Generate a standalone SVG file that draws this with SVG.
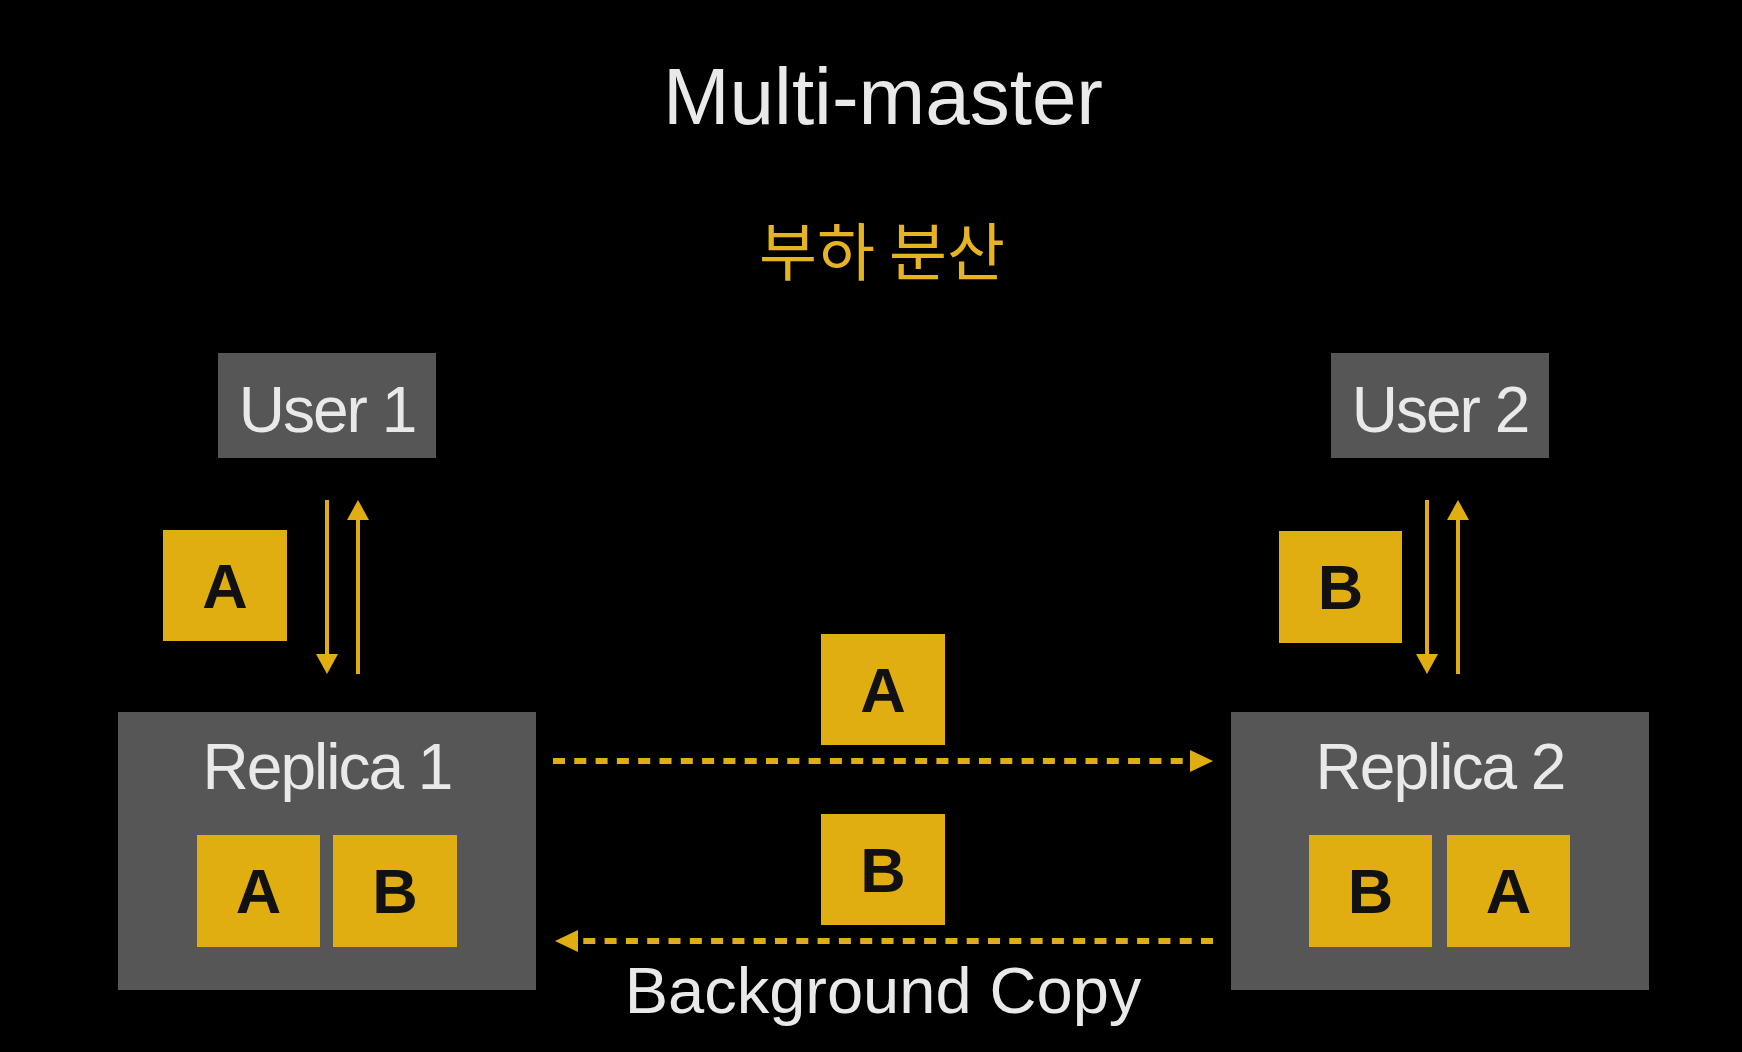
<svg xmlns="http://www.w3.org/2000/svg" width="1742" height="1052" viewBox="0 0 1742 1052">
<style>
.bg{fill:#000}
.gray{fill:#565656}
.yel{fill:#e1ae12}
.lbl{font-family:"Liberation Sans",Arial,sans-serif;fill:#e9e9e9;text-anchor:middle}
.node{font-size:64px;letter-spacing:-2px}
.let{font-family:"Liberation Sans",Arial,sans-serif;font-weight:bold;font-size:63px;fill:#111;text-anchor:middle}
.solid{stroke:#e1ae12;stroke-width:4;fill:none}
.dash{stroke:#e1ae12;stroke-width:6;fill:none;stroke-dasharray:12 9.3}
</style>
<defs>
<marker id="ah" viewBox="0 0 20 22" refX="10" refY="11" markerWidth="20" markerHeight="22" markerUnits="userSpaceOnUse" orient="auto">
<path d="M0,0 L20,11 L0,22 Z" fill="#e1ae12"/>
</marker>
<marker id="ahd" viewBox="0 0 23 22" refX="2" refY="11" markerWidth="23" markerHeight="22" markerUnits="userSpaceOnUse" orient="auto">
<path d="M0,0 L23,11 L0,22 Z" fill="#e1ae12"/>
</marker>
</defs>
<rect class="bg" x="0" y="0" width="1742" height="1052"/>
<g id="title">
<text class="lbl" x="883" y="124" font-size="80" fill="#e6e6e6">Multi-master</text>
<text x="882" y="275" font-family="'Noto Sans CJK KR','Liberation Sans',sans-serif" font-size="63" fill="#e6b422" text-anchor="middle">부하 분산</text>
</g>
<g id="user1">
<rect class="gray" x="218" y="353" width="218" height="105"/>
<text class="lbl node" x="327" y="432">User 1</text>
</g>
<g id="user2">
<rect class="gray" x="1331" y="353" width="218" height="105"/>
<text class="lbl node" x="1440" y="432">User 2</text>
</g>
<g id="replica1">
<rect class="gray" x="118" y="712" width="418" height="278"/>
<text class="lbl node" x="327" y="789">Replica 1</text>
<rect class="yel" x="197" y="835" width="123" height="112"/>
<text class="let" x="258.5" y="913">A</text>
<rect class="yel" x="333" y="835" width="124" height="112"/>
<text class="let" x="395" y="913">B</text>
</g>
<g id="replica2">
<rect class="gray" x="1231" y="712" width="418" height="278"/>
<text class="lbl node" x="1440" y="789">Replica 2</text>
<rect class="yel" x="1309" y="835" width="123" height="112"/>
<text class="let" x="1370.5" y="913">B</text>
<rect class="yel" x="1447" y="835" width="123" height="112"/>
<text class="let" x="1508.5" y="913">A</text>
</g>
<g id="msgA1">
<rect class="yel" x="163" y="530" width="124" height="111"/>
<text class="let" x="225" y="608">A</text>
</g>
<g id="msgB2">
<rect class="yel" x="1279" y="531" width="123" height="112"/>
<text class="let" x="1340.5" y="609">B</text>
</g>
<g id="msgAcopy">
<rect class="yel" x="821" y="634" width="124" height="111"/>
<text class="let" x="883" y="711.5">A</text>
</g>
<g id="msgBcopy">
<rect class="yel" x="821" y="814" width="124" height="111"/>
<text class="let" x="883" y="891.5">B</text>
</g>
<g id="connectors">
<line class="solid" x1="327" y1="500" x2="327" y2="664" marker-end="url(#ah)"/>
<line class="solid" x1="358" y1="674" x2="358" y2="510" marker-end="url(#ah)"/>
<line class="solid" x1="1427" y1="500" x2="1427" y2="664" marker-end="url(#ah)"/>
<line class="solid" x1="1458" y1="674" x2="1458" y2="510" marker-end="url(#ah)"/>
<line class="dash" x1="553" y1="761" x2="1192" y2="761" marker-end="url(#ahd)"/>
<line class="dash" x1="1213" y1="941" x2="576" y2="941" marker-end="url(#ahd)"/>
</g>
<g id="caption">
<text class="lbl" x="883" y="1013" font-size="65">Background Copy</text>
</g>
</svg>
